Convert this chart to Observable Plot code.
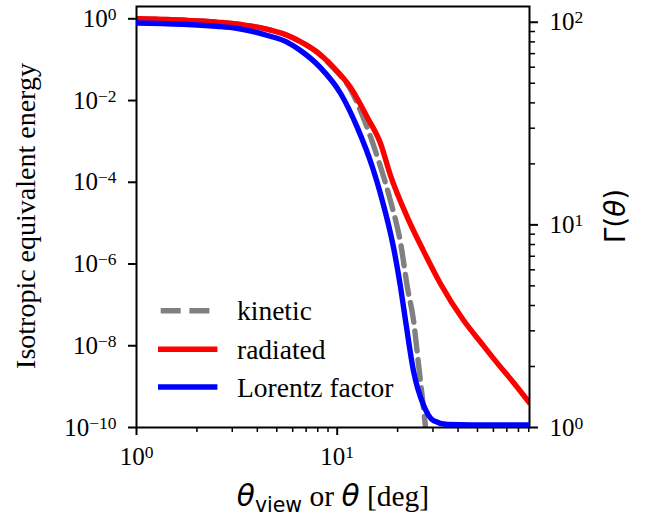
<!DOCTYPE html>
<html>
<head>
<meta charset="utf-8">
<script src="https://cdn.jsdelivr.net/npm/d3@7"></script>
<script src="https://cdn.jsdelivr.net/npm/@observablehq/plot@0.6"></script>
<style>
  body { margin: 0; background: white; }
  #wrap { position: relative; width: 652px; height: 517px; }
  #wrap > svg { position: absolute; left: 0; top: 0; }
</style>
</head>
<body>
<div id="wrap"></div>
<script>
// ---- data ----
const thetaE = [1, 1.77, 2.5, 3.15, 4.5, 5.59, 6.56, 8, 9.59, 11.65, 14.16, 16.44, 18.4, 22.4, 26.9, 32.7, 42.6, 52, 62.9, 75, 89.8];
const radiated = [1.0, 0.92, 0.835, 0.75, 0.55, 0.40, 0.275, 0.148, 0.0645, 0.0208, 3.8e-3, 8.9e-4, 1.5e-4, 1.37e-5, 2.1e-6, 3.3e-7, 4.2e-8, 1.2e-8, 3.7e-9, 1.32e-9, 4.3e-10];

const thetaK = [1, 1.77, 2.5, 3.15, 4.5, 5.59, 6.56, 8, 9.59, 11.65, 13.5, 16.07, 18.4, 20.7, 22.4, 24.0, 25.4, 26.9, 27.7];
const kinetic = [1.0, 0.92, 0.835, 0.75, 0.55, 0.40, 0.275, 0.148, 0.062, 0.0186, 3.8e-3, 3.4e-4, 3.6e-5, 3.2e-6, 2.6e-7, 4.2e-8, 3.6e-9, 3e-10, 8e-11];

const thetaG = [1, 2.5, 3.15, 4.5, 5.59, 6.56, 8.25, 10.4, 12.6, 15.0, 16.44, 19.1, 20.7, 21.9, 24.0, 26.9, 30.2, 35.5, 46.2, 60, 89.8];
const lorentz = [99.1, 95.5, 93.4, 86, 80, 72.5, 59.7, 44.5, 30.2, 19.2, 14.2, 7.7, 4.9, 3.37, 1.9, 1.29, 1.08, 1.035, 1.03, 1.03, 1.03];

const xMajor = [1, 10];
const xMinor = [2, 3, 4, 5, 6, 7, 8, 9, 20, 30, 40, 50, 60, 70, 80, 90];
const yLeftMajor = [1, 1e-2, 1e-4, 1e-6, 1e-8, 1e-10];
const yRightMajor = [1, 10, 100];
const yRightMinor = [2, 3, 4, 5, 6, 7, 8, 9, 20, 30, 40, 50, 60, 70, 80, 90];

const legendItems = ["kinetic", "radiated", "Lorentz factor"];
const yLabel = "Isotropic equivalent energy";

const radData = thetaE.map((t, i) => ({theta: t, v: radiated[i]}));
const kinData = thetaK.map((t, i) => ({theta: t, v: kinetic[i]}));
const gamData = thetaG.map((t, i) => ({theta: t, v: lorentz[i]}));

const fmt = d => "10^" + String(Math.round(Math.log10(d))).replace("-", "\u2212");

const W = 652, H = 517;
const margins = {marginLeft: 136, marginRight: 123, marginTop: 6, marginBottom: 90};
const serif = "Liberation Serif";
const sans = "DejaVu Sans";
const xScale = {type: "log", domain: [1, 90.8]};

const main = Plot.plot({
  width: W, height: H, ...margins,
  style: {fontFamily: serif, fontSize: "25px", background: "transparent", color: "black", overflow: "visible"},
  x: xScale,
  y: {type: "log", domain: [1e-10, 2]},
  marks: [
    Plot.axisX(xMinor, {tickSize: 5, strokeWidth: 1.5, tickFormat: () => "", label: null}),
    Plot.axisX(xMajor, {tickSize: 8, strokeWidth: 2, tickPadding: 12, tickFormat: fmt, label: null}),
    Plot.axisY(yLeftMajor, {tickSize: 8, strokeWidth: 2, tickPadding: 12, tickFormat: fmt, label: null}),
    Plot.line(kinData, {x: "theta", y: "v", stroke: "#808080", strokeWidth: 5.4, strokeDasharray: "20,8.7", curve: "monotone-x", clip: true}),
    Plot.line(radData, {x: "theta", y: "v", stroke: "#ff0000", strokeWidth: 5.4, strokeLinecap: "square", curve: "monotone-x", clip: true}),
    Plot.frame({stroke: "black", strokeWidth: 2})
  ]
});

const over = Plot.plot({
  width: W, height: H, ...margins,
  style: {fontFamily: serif, fontSize: "25px", background: "transparent", color: "black", overflow: "visible"},
  x: {...xScale, axis: null},
  y: {type: "log", domain: [1, 119.6]},
  marks: [
    Plot.axisY(yRightMinor, {anchor: "right", tickSize: 5, strokeWidth: 1.5, tickFormat: () => "", label: null}),
    Plot.axisY(yRightMajor, {anchor: "right", tickSize: 8, strokeWidth: 2, tickPadding: 12, tickFormat: fmt, label: null}),
    Plot.line(gamData, {x: "theta", y: "v", stroke: "#0000ff", strokeWidth: 5.4, strokeLinecap: "square", curve: "monotone-x", clip: true})
  ]
});

function supify(svg) {
  d3.select(svg).selectAll("text").each(function () {
    const m = /^10\^(.+)$/.exec(this.textContent);
    if (!m) return;
    const sel = d3.select(this);
    sel.text(null);
    sel.append("tspan").text("10");
    sel.append("tspan").attr("font-size", "17.5px").attr("dy", "-7").text(m[1]);
  });
}
supify(main); supify(over);

// axis labels
const ms = d3.select(main);
ms.append("text")
  .attr("transform", "translate(35,216) rotate(-90)")
  .attr("text-anchor", "middle")
  .attr("font-family", serif).attr("font-size", "28px").attr("fill", "black")
  .text(yLabel);

const xl = ms.append("text")
  .attr("x", 333).attr("y", 506)
  .attr("text-anchor", "middle")
  .attr("font-family", serif).attr("font-size", "29.5px").attr("fill", "black");
xl.append("tspan").attr("font-family", sans).attr("font-style", "italic").text("\u03B8");
xl.append("tspan").attr("font-family", sans).attr("font-size", "20.5px").attr("dy", "5.5").text("view");
xl.append("tspan").attr("dy", "-5.5").text(" or ");
xl.append("tspan").attr("font-family", sans).attr("font-style", "italic").text("\u03B8");
xl.append("tspan").text(" [deg]");

const os = d3.select(over);
const rl = os.append("text")
  .attr("transform", "translate(625,216) rotate(-90)")
  .attr("text-anchor", "middle")
  .attr("font-family", sans).attr("font-size", "28px").attr("fill", "black");
rl.append("tspan").text("\u0393(");
rl.append("tspan").attr("font-style", "italic").text("\u03B8");
rl.append("tspan").text(")");

// legend
const ns = "http://www.w3.org/2000/svg";
const leg = d3.select(document.createElementNS(ns, "svg"))
  .attr("width", W).attr("height", H).style("pointer-events", "none");
const legStyles = [
  {stroke: "#808080", dash: "20,8.7", cap: "butt"},
  {stroke: "#ff0000", dash: null, cap: "square"},
  {stroke: "#0000ff", dash: null, cap: "square"}
];
const rowY = [310.7, 349.3, 387];
legendItems.forEach((name, i) => {
  leg.append("line")
    .attr("x1", 160.7).attr("x2", 214.7).attr("y1", rowY[i]).attr("y2", rowY[i])
    .attr("stroke", legStyles[i].stroke).attr("stroke-width", 5.4)
    .attr("stroke-linecap", legStyles[i].cap)
    .attr("stroke-dasharray", legStyles[i].dash);
  leg.append("text")
    .attr("x", 237).attr("y", rowY[i] + 9.5)
    .attr("font-family", serif).attr("font-size", "27.5px").attr("fill", "black")
    .text(name);
});

const wrap = document.getElementById("wrap");
wrap.appendChild(main);
wrap.appendChild(over);
wrap.appendChild(leg.node());
</script>
</body>
</html>
